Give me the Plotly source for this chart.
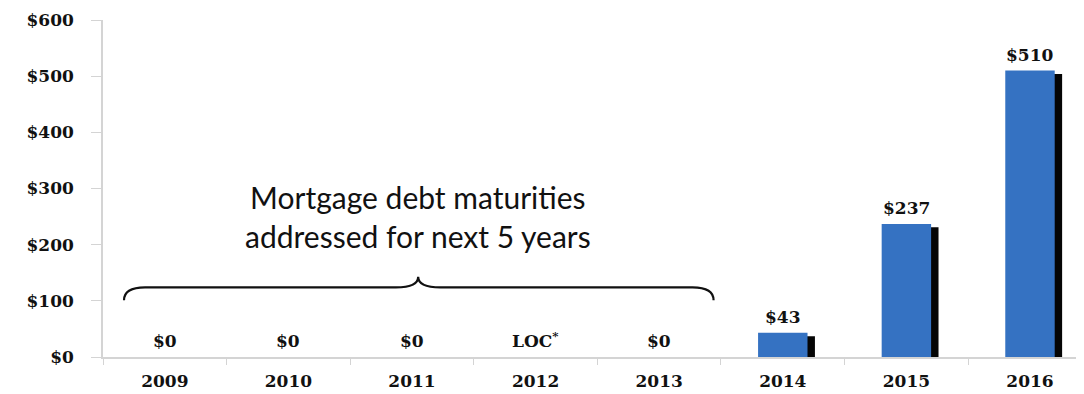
import plotly.graph_objects as go

years = ["2009", "2010", "2011", "2012", "2013", "2014", "2015", "2016"]
values = [0, 0, 0, 0, 0, 43, 237, 510]
labels = ["$0", "$0", "$0", "LOC<sup>*</sup>", "$0", "$43", "$237", "$510"]
y_ticks = [0, 100, 200, 300, 400, 500, 600]
y_ticktext = ["$0", "$100", "$200", "$300", "$400", "$500", "$600"]
note = "Mortgage debt maturities<br>addressed for next 5 years"

BLUE = "#3572C2"
SHADOW_DROP = 6
serif = dict(family="DejaVu Serif", size=17, color="#111111", weight="bold")

shadow_vals = [max(v - SHADOW_DROP, 0) for v in values]

fig = go.Figure()
fig.add_trace(go.Bar(x=years, y=shadow_vals, width=0.40, offset=-0.14,
                     marker=dict(color="#050505", line=dict(width=0)),
                     hoverinfo="skip", showlegend=False))
fig.add_trace(go.Bar(x=years, y=values, width=0.40, offset=-0.20,
                     marker=dict(color=BLUE, line=dict(width=0)),
                     showlegend=False))

for i, (v, lab) in enumerate(zip(values, labels)):
    fig.add_annotation(x=i, y=v, xref="x", yref="y", text=lab, showarrow=False,
                       yanchor="bottom", yshift=4, font=serif)

fig.add_annotation(x=2.05, y=250, xref="x", yref="y", text=note, showarrow=False,
                   font=dict(family="Lato", size=30, color="#111111"))

# curly brace spanning 2009-2013
brace = ("M -0.33,101 Q -0.33,124 -0.16,124 L 1.87,124 Q 2.05,124 2.05,143 "
         "Q 2.05,124 2.23,124 L 4.27,124 Q 4.44,124 4.44,101")
fig.add_shape(type="path", path=brace, xref="x", yref="y",
              line=dict(color="#111111", width=2.2))

fig.update_layout(
    width=1076, height=386,
    margin=dict(l=95, r=0, t=12, b=37),
    paper_bgcolor="white", plot_bgcolor="white",
    barmode="overlay",
    xaxis=dict(type="category", range=[-0.5, 7.437], showgrid=False,
               showline=True, linecolor="#d4d4d4", linewidth=1.5,
               ticks="outside", tickson="boundaries", ticklen=6, tickcolor="#d4d4d4",
               tickfont=serif, ticklabelstandoff=8, zeroline=False),
    yaxis=dict(range=[0, 600], tickvals=y_ticks, ticktext=y_ticktext,
               showgrid=False, showline=True, linecolor="#d4d4d4", linewidth=1.5,
               ticks="outside", ticklen=10, tickcolor="#d4d4d4",
               tickfont=serif, ticklabelstandoff=14, zeroline=False),
)

fig.write_html("out.html")
